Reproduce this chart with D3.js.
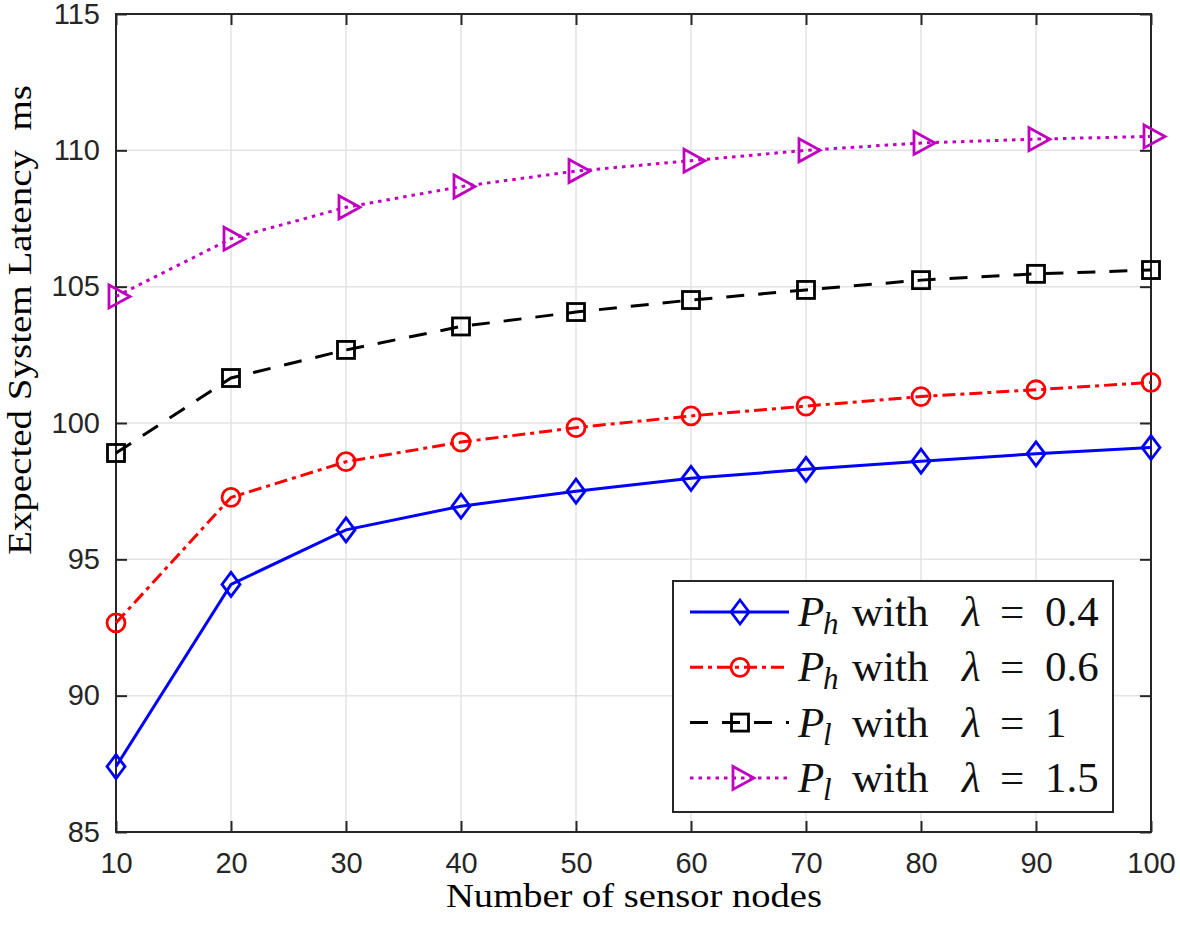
<!DOCTYPE html>
<meta charset="utf-8">
<style>
  body { margin: 0; background: #fff; }
  .tick-label { font-family: "Liberation Sans", Arial, sans-serif; font-size: 29px; fill: #262626; }
  .axis-title { font-family: "Liberation Serif", "Times New Roman", serif; font-size: 33px; fill: #000; white-space: pre; }
  .legend-text { font-family: "Liberation Serif", "Times New Roman", serif; font-size: 43px; fill: #111; }
</style>
<body>
<svg width="1180" height="926"></svg>
<script src="https://d3js.org/d3.v7.min.js"></script>
<script>
// data
var nodes = [10, 20, 30, 40, 50, 60, 70, 80, 90, 100];
var ph04 = [87.4, 94.08, 96.08, 96.95, 97.5, 97.97, 98.3, 98.6, 98.87, 99.1];
var ph06 = [92.67, 97.27, 98.58, 99.3, 99.83, 100.26, 100.62, 100.97, 101.22, 101.49];
var pl1 = [98.9, 101.65, 102.68, 103.54, 104.07, 104.51, 104.88, 105.24, 105.47, 105.61];
var pl15 = [104.64, 106.76, 107.91, 108.67, 109.24, 109.62, 110.0, 110.27, 110.41, 110.51];
var xTicks = [10, 20, 30, 40, 50, 60, 70, 80, 90, 100];
var yTicks = [85, 90, 95, 100, 105, 110, 115];

var pLeft = 116, pRight = 1151, pTop = 14, pBottom = 832;
var x = d3.scaleLinear().domain([10, 100]).range([pLeft, pRight]);
var y = d3.scaleLinear().domain([85, 115]).range([pBottom, pTop]);

var svg = d3.select("svg");

/* grid */
svg.append("g").selectAll("line").data(xTicks.slice(1, -1)).enter().append("line")
  .attr("x1", d => x(d)).attr("x2", d => x(d)).attr("y1", pTop).attr("y2", pBottom)
  .attr("stroke", "#e3e3e3").attr("stroke-width", 1.5);
svg.append("g").selectAll("line").data(yTicks.slice(1, -1)).enter().append("line")
  .attr("y1", d => y(d)).attr("y2", d => y(d)).attr("x1", pLeft).attr("x2", pRight)
  .attr("stroke", "#e3e3e3").attr("stroke-width", 1.5);

/* box axes with inward ticks */
var ax = svg.append("g");
ax.append("g").attr("transform", "translate(0," + pBottom + ")")
  .call(d3.axisBottom(x).tickValues(xTicks).tickSize(-11).tickPadding(20))
  .call(g => g.select(".domain").remove());
ax.append("g").attr("transform", "translate(0," + pTop + ")")
  .call(d3.axisTop(x).tickValues(xTicks).tickSize(-11).tickFormat(""))
  .call(g => g.select(".domain").remove());
ax.append("g").attr("transform", "translate(" + pLeft + ",0)")
  .call(d3.axisLeft(y).tickValues(yTicks).tickSize(-11).tickPadding(16))
  .call(g => g.select(".domain").remove());
ax.append("g").attr("transform", "translate(" + pRight + ",0)")
  .call(d3.axisRight(y).tickValues(yTicks).tickSize(-11).tickFormat(""))
  .call(g => g.select(".domain").remove());
ax.selectAll(".tick line").attr("stroke", "#262626").attr("stroke-width", 2);
ax.selectAll(".tick text").attr("class", "tick-label").attr("font-size", null).attr("font-family", null).attr("fill", null);
ax.append("rect").attr("x", pLeft).attr("y", pTop).attr("width", pRight - pLeft).attr("height", pBottom - pTop)
  .attr("fill", "none").attr("stroke", "#262626").attr("stroke-width", 2);

/* series */
var series = [
  { name: "h", lam: "0.4", vals: ph04, color: "#0000ff", dash: null, marker: "diamond" },
  { name: "h", lam: "0.6", vals: ph06, color: "#ff0000", dash: "13,5,4,5", marker: "circle" },
  { name: "l", lam: "1", vals: pl1, color: "#000000", dash: "18,14", marker: "square" },
  { name: "l", lam: "1.5", vals: pl15, color: "#c000c0", dash: "3.5,5", marker: "triangle" }
];

var line = d3.line().x((d, i) => x(nodes[i])).y(d => y(d));

function marker(g, type, color) {
  if (type === "diamond") {
    g.append("path").attr("d", "M0,-12L9,0L0,12L-9,0Z");
  } else if (type === "circle") {
    g.append("circle").attr("r", 9);
  } else if (type === "square") {
    g.append("rect").attr("x", -8.5).attr("y", -8.5).attr("width", 17).attr("height", 17);
  } else {
    g.append("path").attr("d", "M-7,-11.5L14,0L-7,11.5Z");
  }
  g.selectAll("*").attr("fill", "none").attr("stroke", color).attr("stroke-width", 2.8);
}

series.forEach(function(s) {
  svg.append("path").datum(s.vals).attr("d", line)
    .attr("fill", "none").attr("stroke", s.color).attr("stroke-width", 3)
    .attr("stroke-dasharray", s.dash);
  s.vals.forEach(function(v, i) {
    var g = svg.append("g").attr("transform", "translate(" + x(nodes[i]) + "," + y(v) + ")");
    marker(g, s.marker, s.color);
  });
});

/* legend */
var lg = svg.append("g");
lg.append("rect").attr("x", 673).attr("y", 581).attr("width", 440).attr("height", 231)
  .attr("fill", "#fff").attr("stroke", "#262626").attr("stroke-width", 2);
series.forEach(function(s, i) {
  var cy = 612 + i * 55.3;
  lg.append("line").attr("x1", 690).attr("x2", 789).attr("y1", cy).attr("y2", cy)
    .attr("stroke", s.color).attr("stroke-width", 3).attr("stroke-dasharray", s.dash);
  var m = lg.append("g").attr("transform", "translate(740," + cy + ")");
  marker(m, s.marker, s.color);
  var t = lg.append("text").attr("class", "legend-text").attr("y", cy + 14);
  t.append("tspan").attr("x", 798).attr("font-style", "italic").text("P");
  t.append("tspan").attr("x", 823).attr("font-style", "italic").attr("font-size", "31px").attr("dy", 8).text(s.name);
  t.append("tspan").attr("x", 852).attr("dy", -8).text("with");
  t.append("tspan").attr("x", 962).attr("font-style", "italic").text("λ");
  t.append("tspan").attr("x", 1000).text("=");
  t.append("tspan").attr("x", 1045).text(s.lam);
});

/* axis titles */
svg.append("text").attr("class", "axis-title").attr("x", 634).attr("y", 907)
  .attr("text-anchor", "middle").attr("textLength", 376).attr("lengthAdjust", "spacingAndGlyphs")
  .text("Number of sensor nodes");
svg.append("text").attr("class", "axis-title")
  .attr("transform", "translate(31,320) rotate(-90)")
  .attr("text-anchor", "middle").attr("textLength", 470).attr("lengthAdjust", "spacingAndGlyphs")
  .text("Expected System Latency  ms");
</script>
</body>
